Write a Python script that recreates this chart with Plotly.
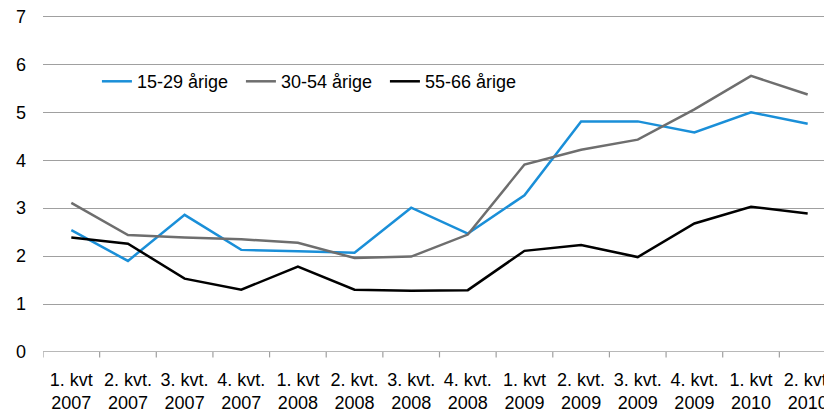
import plotly.graph_objects as go

categories = ["1. kvt<br>2007", "2. kvt.<br>2007", "3. kvt.<br>2007", "4. kvt.<br>2007",
              "1. kvt<br>2008", "2. kvt.<br>2008", "3. kvt.<br>2008", "4. kvt.<br>2008",
              "1. kvt<br>2009", "2. kvt.<br>2009", "3. kvt.<br>2009", "4. kvt.<br>2009",
              "1. kvt<br>2010", "2. kvt.<br>2010"]
s15_29 = [2.54, 1.90, 2.86, 2.13, 2.10, 2.07, 3.01, 2.47, 3.27, 4.81, 4.81, 4.58, 5.00, 4.76]
s30_54 = [3.11, 2.44, 2.39, 2.35, 2.28, 1.96, 1.99, 2.45, 3.91, 4.22, 4.43, 5.06, 5.76, 5.37]
s55_66 = [2.39, 2.26, 1.53, 1.30, 1.78, 1.30, 1.28, 1.29, 2.11, 2.23, 1.98, 2.68, 3.03, 2.89]
names = ["15-29 årige", "30-54 årige", "55-66 årige"]
colors = ["#1a8fd8", "#6e6e6e", "#000000"]

fig = go.Figure()
for name, vals, col in zip(names, [s15_29, s30_54, s55_66], colors):
    fig.add_trace(go.Scatter(x=list(range(len(categories))), y=vals, name=name,
                             mode="lines", line=dict(color=col, width=2.5)))

font = dict(family="Liberation Sans, Arial", size=18, color="#000")
fig.update_layout(
    width=832, height=411,
    margin=dict(l=35, r=4, t=6, b=67),
    plot_bgcolor="white", paper_bgcolor="white",
    font=font,
    showlegend=True,
    legend=dict(orientation="h", x=0.068, y=0.80, xanchor="left", yanchor="middle",
                bgcolor="rgba(0,0,0,0)", font=font, entrywidth=99, entrywidthmode="pixels",
                itemwidth=30),
    xaxis=dict(tickmode="array", tickvals=list(range(len(categories))), ticktext=categories,
               range=[-0.5, 13.5], showgrid=False, zeroline=False, automargin=False,
               showline=False, ticks="", tickfont=font, ticklabelstandoff=15,
               ticklabeloverflow="allow"),
    yaxis=dict(range=[0, 7.05], tickmode="array", tickvals=[0, 1, 2, 3, 4, 5, 6, 7],
               showgrid=True, gridcolor="#a0a0a0", gridwidth=1,
               zeroline=False, showline=False, ticks="", tickfont=font, automargin=False,
               ticklabelstandoff=16, ticklabeloverflow="allow"),
)
# x axis line with outside tick marks at category boundaries
fig.add_shape(type="line", xref="x", yref="y", x0=-0.5, x1=13.5, y0=0, y1=0,
              line=dict(color="#a0a0a0", width=1.5))
for i in range(len(categories)):
    fig.add_shape(type="line", xref="x", yref="paper", x0=i - 0.5, x1=i - 0.5, y0=0, y1=-0.016,
                  line=dict(color="#a0a0a0", width=1.2))
fig.add_annotation(text="Pct.", xref="paper", yref="paper", x=-0.039, y=1.0, xanchor="left",
                   yanchor="bottom", showarrow=False, font=font)

fig.write_html("out.html")
